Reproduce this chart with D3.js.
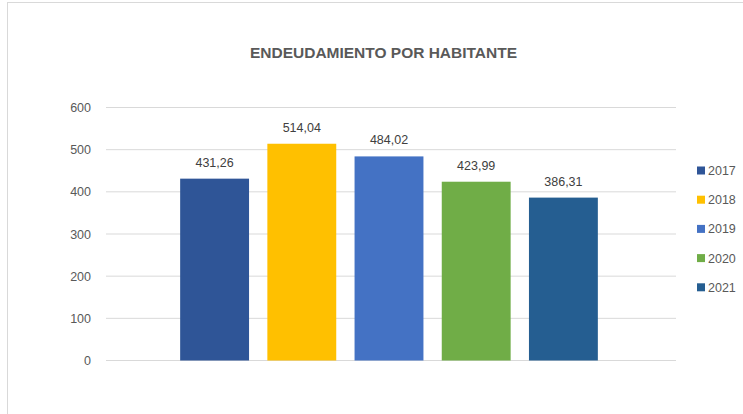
<!DOCTYPE html>
<html>
<head>
<meta charset="utf-8">
<script src="https://cdn.jsdelivr.net/npm/d3@7"></script>
<style>
  body { margin: 0; background: #fff; }
  text { font-family: "Liberation Sans", Arial, sans-serif; }
</style>
</head>
<body>
<div id="chart"></div>
<script>
// data
var years = ["2017", "2018", "2019", "2020", "2021"];
var values = [431.26, 514.04, 484.02, 423.99, 386.31];
var colors = ["#2F5597", "#FFC000", "#4472C4", "#70AD47", "#255E91"];
var yTicks = [0, 100, 200, 300, 400, 500, 600];

var width = 743, height = 414;

var svg = d3.select("#chart")
    .append("svg")
    .attr("width", width)
    .attr("height", height);

// chart area border (only top + left are visible in the crop)
svg.append("line").attr("x1", 7).attr("x2", width).attr("y1", 2.5).attr("y2", 2.5)
    .style("stroke", "#d9d9d9");
svg.append("line").attr("x1", 7.5).attr("x2", 7.5).attr("y1", 2).attr("y2", height)
    .style("stroke", "#d9d9d9");

// title
svg.append("text")
    .attr("x", 250)
    .attr("y", 58)
    .attr("textLength", 267)
    .attr("lengthAdjust", "spacingAndGlyphs")
    .style("font-size", "14.5px")
    .style("font-weight", "bold")
    .style("fill", "#595959")
    .text("ENDEUDAMIENTO POR HABITANTE");

var y = d3.scaleLinear()
    .domain([0, 600])
    .range([360.5, 107.5]);

var x = d3.scaleBand()
    .domain(years)
    .range([171, 607])
    .paddingInner(0.21)
    .paddingOuter(0.105);

var gridLeft = 106, gridRight = 676;

// gridlines
svg.append("g")
    .selectAll("line")
    .data(yTicks)
    .enter()
    .append("line")
    .attr("x1", gridLeft)
    .attr("x2", gridRight)
    .attr("y1", function (d) { return y(d); })
    .attr("y2", function (d) { return y(d); })
    .style("stroke", "#d9d9d9")
    .style("stroke-width", 1);

// y tick labels
svg.append("g")
    .selectAll("text")
    .data(yTicks)
    .enter()
    .append("text")
    .attr("x", 91)
    .attr("y", function (d) { return y(d) + 4.5; })
    .attr("text-anchor", "end")
    .style("font-size", "12.5px")
    .style("fill", "#595959")
    .text(function (d) { return d; });

// bars
svg.append("g")
    .selectAll("rect")
    .data(values)
    .enter()
    .append("rect")
    .attr("x", function (d, i) { return x(years[i]); })
    .attr("y", function (d) { return y(d); })
    .attr("width", x.bandwidth())
    .attr("height", function (d) { return y(0) - y(d); })
    .attr("fill", function (d, i) { return colors[i]; });

// value labels
svg.append("g")
    .selectAll("text")
    .data(values)
    .enter()
    .append("text")
    .attr("x", function (d, i) { return x(years[i]) + x.bandwidth() / 2; })
    .attr("y", function (d) { return y(d) - 12; })
    .attr("text-anchor", "middle")
    .style("font-size", "12.5px")
    .style("fill", "#404040")
    .text(function (d) { return d.toFixed(2).replace(".", ","); });

// legend
var legend = svg.append("g")
    .selectAll("g")
    .data(years)
    .enter()
    .append("g")
    .attr("transform", function (d, i) { return "translate(697," + (170.5 + i * 29.2) + ")"; });

legend.append("rect")
    .attr("x", 0)
    .attr("y", -4)
    .attr("width", 8)
    .attr("height", 8)
    .attr("fill", function (d, i) { return colors[i]; });

legend.append("text")
    .attr("x", 11)
    .attr("y", 4.5)
    .style("font-size", "12.5px")
    .style("fill", "#595959")
    .text(function (d) { return d; });
</script>
</body>
</html>
